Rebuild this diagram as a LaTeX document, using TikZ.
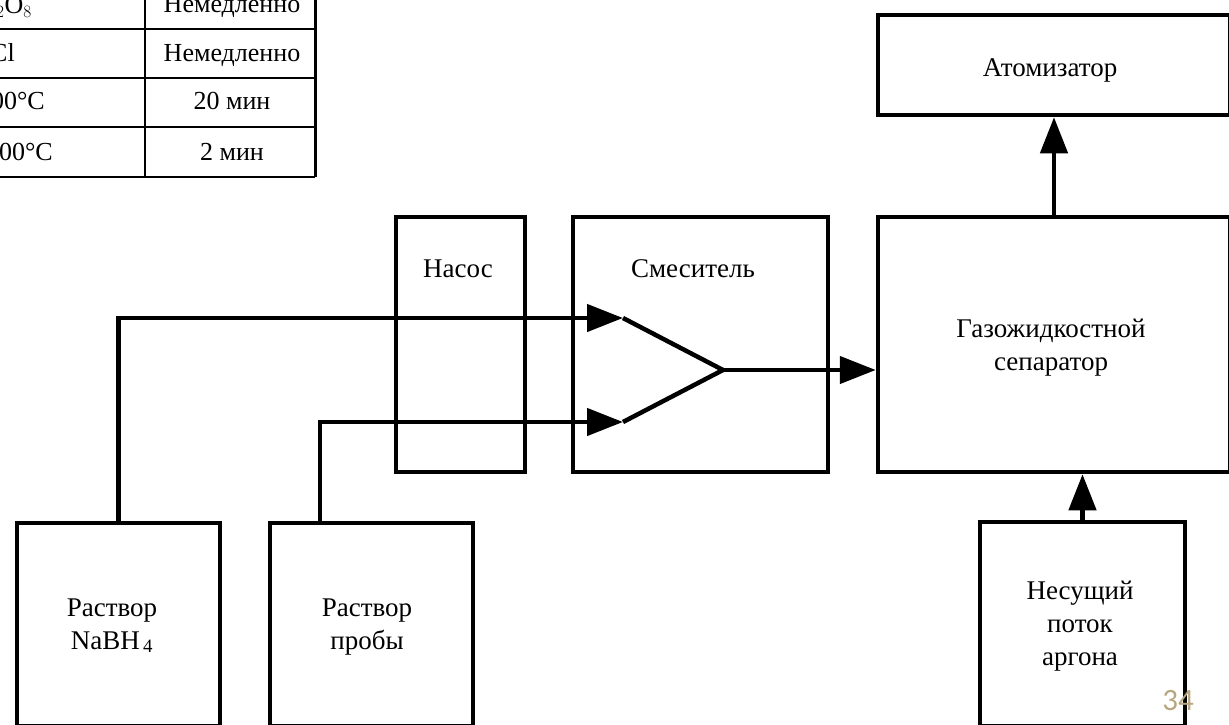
\documentclass[tikz,border=0pt]{standalone}
\usepackage{fontspec}
\setmainfont{Liberation Serif}
\newfontfamily\pagefont{Carlito}
\usetikzlibrary{arrows.meta}
\definecolor{pagenum}{RGB}{183,166,128}

\begin{document}
	\begin{tikzpicture}[x=1pt,y=-1pt,
		blk/.style 2 args={draw,line width=4.5pt,minimum width=#1,minimum height=#2,inner sep=0pt},
		lbl/.style={font=\fontsize{27}{33}\selectfont,align=center,anchor=base,inner sep=0pt},
		cell/.style={font=\fontsize{26}{33}\selectfont,inner sep=0pt},
		pipe/.style={line width=4.5pt},
		flow/.style={line width=4.5pt,-{Triangle[length=36pt,width=27pt]}},
		tab/.style={line width=2pt}]
		\useasboundingbox (0,0) rectangle (1229,725);
		\clip (0,0) rectangle (1229,725);
		% Table (cut off)
		\foreach \y in {29,78,127,177}
			\draw [tab] (-10,\y) -- (315,\y);
		\draw [tab] (145,-10) -- (145,177);
		\draw [line width=3pt] (315,-10) -- (315,177);
		\node [cell,anchor=base east] (c11) at (32,14) {K$_2$S$_2$O$_8$};
		\node [cell,anchor=base east] (c21) at (15,62) {HCl};
		\node [cell,anchor=base east] (c31) at (45,110) {900°C};
		\node [cell,anchor=base east] (c41) at (53,160) {1000°C};
		\node [cell,anchor=base] (c12) at (232,13) {Немедленно};
		\node [cell,anchor=base] (c22) at (232,62) {Немедленно};
		\node [cell,anchor=base] (c32) at (232,110) {20 мин};
		\node [cell,anchor=base] (c42) at (232,160) {2 мин};
		% Blocks
		\node [blk={352pt}{100pt}] (atom) at (1054,65) {};
		\node [blk={352pt}{255pt}] (sep) at (1054,344.5) {};
		\node [blk={129pt}{255pt}] (nasos) at (460.5,344.5) {};
		\node [blk={255pt}{255pt}] (mixer) at (700.5,344.5) {};
		\node [blk={203pt}{203pt}] (nabh) at (118.5,624.5) {};
		\node [blk={203pt}{203pt}] (proba) at (371.5,624.5) {};
		\node [blk={205pt}{204pt}] (argon) at (1082.5,624) {};
		% Labels (base = last line)
		\node [lbl] (atomtxt) at (1050,77) {Атомизатор};
		\node [lbl] (septxt) at (1051,370) {Газожидкостной\\сепаратор};
		\node [lbl] (nasostxt) at (458,277) {Насос};
		\node [lbl] (mixertxt) at (693,277) {Смеситель};
		\node [lbl] (nabhtxt) at (112,649) {Раствор\\NaBH\textsubscript{\,4}};
		\node [lbl] (probatxt) at (367,649) {Раствор\\пробы};
		\node [lbl] (argontxt) at (1080,665) {Несущий\\поток\\аргона};
		\node [anchor=base,inner sep=0pt,text=pagenum,font=\pagefont\fontsize{31}{31}\selectfont] (page) at (1178,710) {34};
		% Mixer inlets
		\coordinate (in1) at (623,318);
		\coordinate (in2) at (623,422);
		\coordinate (mix) at (723,370);
		\draw [flow] (nabh.north) |- (in1);
		\draw [flow] ([xshift=-51.5pt]proba.north) |- (in2);
		\draw [pipe] (in1) -- (mix) -- (in2);
		% Gas flow
		\draw [flow] (mix) -- (mix -| sep.west);
		\draw [flow] (argon.north) -- (argon.north |- sep.south);
		\draw [flow] (sep.north) -- (atom.south);
	\end{tikzpicture}
\end{document}
